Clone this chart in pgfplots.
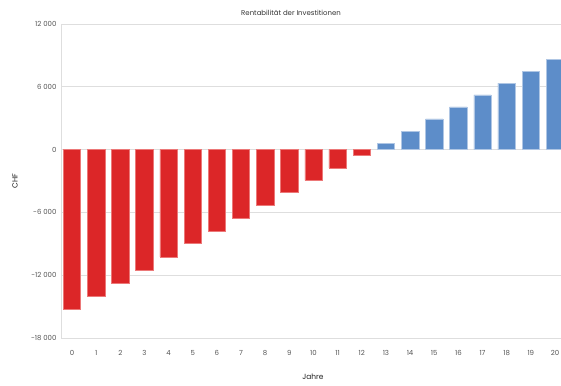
\documentclass[border=0pt]{standalone}
\usepackage{pgfplots}
\pgfplotsset{compat=1.18}
\usepackage{fontspec}
\setmainfont{Poppins}
\definecolor{barred}{RGB}{220,38,40}
\definecolor{barredE}{RGB}{236,120,120}
\definecolor{barblue}{RGB}{93,141,201}
\definecolor{barblueE}{RGB}{175,198,228}
\definecolor{gridc}{RGB}{222,222,222}
\definecolor{tickc}{RGB}{85,85,85}
\begin{document}
\begin{tikzpicture}
\useasboundingbox (-61bp,-48bp) rectangle (500bp,338bp);
\begin{axis}[
  at={(0,0)}, anchor=south west,
  scale only axis, width=500bp, height=314bp,
  xmin=-0.455, xmax=20.25,
  ymin=-18000, ymax=12000,
  scaled y ticks=false,
  ytick={-18000,-12000,-6000,0,6000,12000},
  yticklabels={-18 000,-12 000,-6 000,0,6 000,12 000},
  xtick={0,...,20},
  xticklabels={0,1,2,3,4,5,6,7,8,9,10,11,12,13,14,15,16,17,18,19,20},
  ymajorgrids, grid style={gridc, line width=0.7pt},
  axis x line*=bottom, axis y line*=left,
  axis line style={gridc, line width=0.7pt},
  x axis line style={-}, y axis line style={-},
  major tick length=3bp,
  xtick style={draw=none},
  ytick style={gridc, line width=0.7pt},
  tick label style={font=\fontsize{7}{8}\selectfont, text=tickc},
  yticklabel style={xshift=-1bp},
  xticklabel style={yshift=-6bp},
  ybar, bar width=0.72, bar shift=0pt,
  clip=true,
]
\addplot[fill=barred, draw=barredE, line width=0.5pt] coordinates {
(0,-15290) (1,-14045) (2,-12770) (3,-11500) (4,-10255) (5,-8995)
(6,-7815) (7,-6575) (8,-5330) (9,-4115) (10,-2940) (11,-1750) (12,-570)};
\addplot[fill=barblue, draw=barblueE, line width=0.5pt] coordinates {
(13,570) (14,1750) (15,2930) (16,4080) (17,5230) (18,6340) (19,7480) (20,8600)};
\end{axis}
\node[font=\fontsize{7}{8}\selectfont, text={rgb,255:red,51;green,51;blue,51}] at (230bp,325bp) {Rentabilität der Investitionen};
\node[font=\fontsize{7.5}{8}\selectfont, text={rgb,255:red,34;green,34;blue,34}, rotate=90] at (-46bp,157bp) {CHF};
\node[font=\fontsize{7.5}{8}\selectfont, text={rgb,255:red,34;green,34;blue,34}] at (252bp,-39bp) {Jahre};
\end{tikzpicture}
\end{document}
